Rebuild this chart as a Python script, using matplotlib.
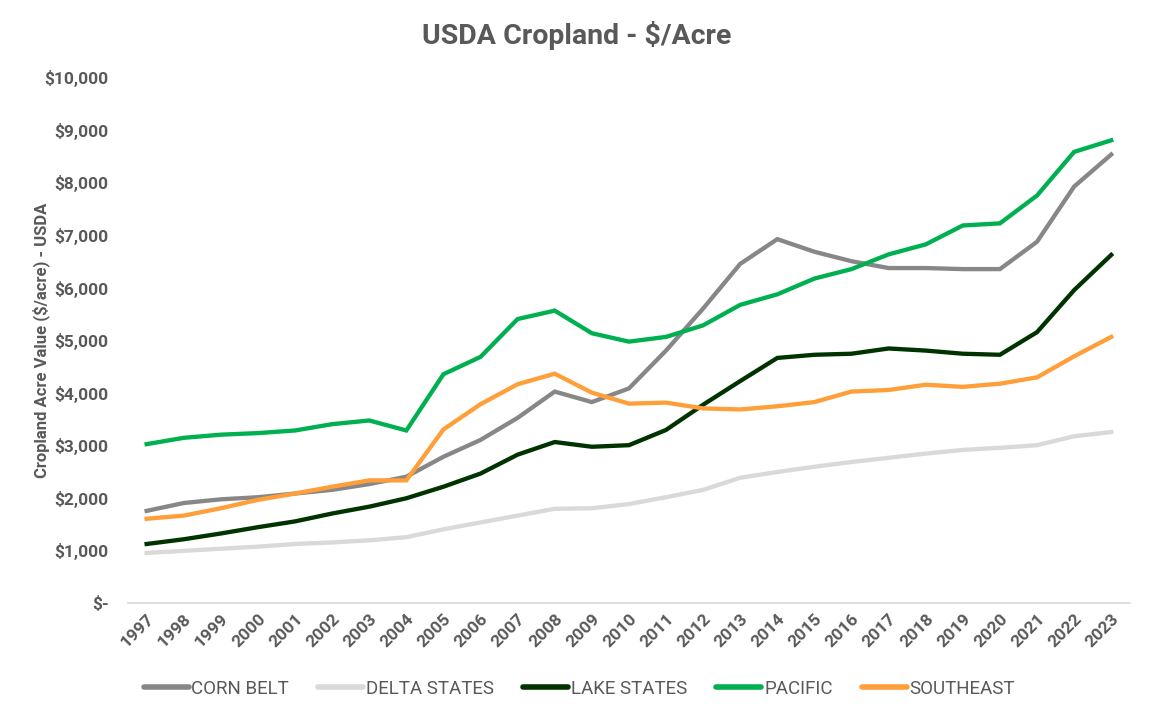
import matplotlib
matplotlib.use("Agg")
import matplotlib.pyplot as plt
from matplotlib.ticker import FuncFormatter

# 数据
years = [str(y) for y in range(1997, 2024)]

corn_belt = [1750, 1900, 1970, 2010, 2080, 2150, 2260, 2400, 2780, 3100,
             3520, 4020, 3820, 4080, 4800, 5600, 6450, 6920, 6680, 6500,
             6370, 6370, 6350, 6350, 6870, 7920, 8530]
delta_states = [950, 990, 1030, 1070, 1120, 1150, 1190, 1250, 1400, 1530,
                1660, 1790, 1800, 1880, 2010, 2150, 2380, 2490, 2590, 2680,
                2760, 2840, 2910, 2950, 3000, 3170, 3250]
lake_states = [1120, 1210, 1320, 1440, 1550, 1700, 1830, 1990, 2210, 2460,
               2820, 3060, 2970, 3000, 3290, 3770, 4220, 4660, 4720, 4740,
               4840, 4800, 4740, 4720, 5150, 5950, 6620]
pacific = [3020, 3140, 3200, 3230, 3280, 3400, 3470, 3280, 4350, 4680,
           5400, 5560, 5130, 4970, 5060, 5280, 5670, 5870, 6170, 6350,
           6630, 6820, 7180, 7220, 7750, 8580, 8800]
southeast = [1600, 1660, 1800, 1960, 2080, 2210, 2330, 2330, 3300, 3780,
             4160, 4360, 4000, 3790, 3810, 3700, 3680, 3740, 3820, 4020,
             4050, 4150, 4110, 4170, 4290, 4690, 5060]

series_names = ['CORN BELT', 'DELTA STATES', 'LAKE STATES', 'PACIFIC', 'SOUTHEAST']
series_colors = ['#878787', '#D9D9D9', '#003300', '#00B050', '#FF9F3A']

plt.rcParams['font.family'] = ['Roboto', 'DejaVu Sans']
text_grey = '#595959'

fig = plt.figure(figsize=(11.54, 7.22), dpi=100)
ax = fig.add_axes([0.111, 0.165, 0.868, 0.728])

x = list(range(len(years)))
for vals, name, col in zip([corn_belt, delta_states, lake_states, pacific, southeast],
                           series_names, series_colors):
    ax.plot(x, vals, color=col, linewidth=3.1, label=name, solid_joinstyle='miter')

ax.set_xlim(-0.5, len(years) - 0.5)
ax.set_ylim(0, 10000)
ax.set_yticks(range(0, 10001, 1000))


def money(v, pos):
    if v == 0:
        return '$-'
    return '${:,.0f}'.format(v)


ax.yaxis.set_major_formatter(FuncFormatter(money))
ax.set_xticks(x)
ax.set_xticklabels(years, rotation=45, ha='right', rotation_mode='anchor')

for lab in ax.get_xticklabels() + ax.get_yticklabels():
    lab.set_fontweight('bold')
    lab.set_color(text_grey)
    lab.set_fontsize(12.5)

ax.tick_params(axis='both', length=0)
ax.tick_params(axis='y', pad=14)
ax.tick_params(axis='x', pad=6)

for side in ['top', 'right', 'left']:
    ax.spines[side].set_visible(False)
ax.spines['bottom'].set_color('#D9D9D9')
ax.spines['bottom'].set_linewidth(1.2)

ax.set_ylabel('Cropland Acre Value ($/acre) - USDA', fontsize=12, fontweight='bold',
              color=text_grey)
ax.yaxis.set_label_coords(-0.078, 0.5)
fig.suptitle('USDA Cropland - $/Acre', fontsize=20.5, fontweight='bold', color=text_grey,
             x=0.5, y=0.951, va='center')

leg = fig.legend(loc='center', bbox_to_anchor=(0.502, 0.046), ncol=5, frameon=False,
                 fontsize=13.5, handlelength=2.4, handletextpad=0.15, columnspacing=1.55)
for t in leg.get_texts():
    t.set_color(text_grey)
for h in leg.get_lines():
    h.set_linewidth(4)
    h.set_solid_capstyle('round')

fig.savefig('out.png', dpi=100)
